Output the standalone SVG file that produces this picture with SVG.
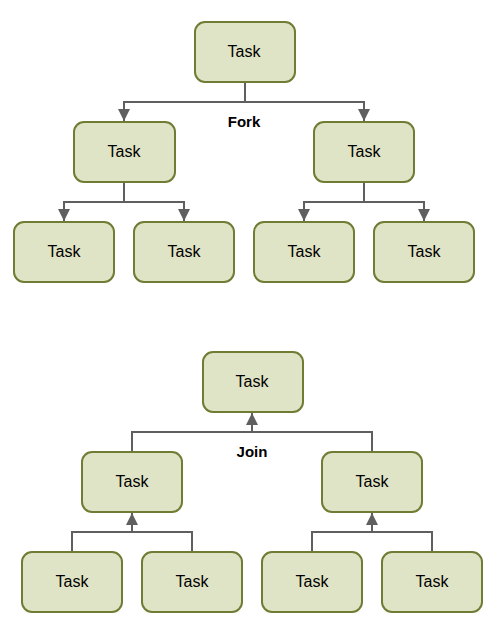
<svg xmlns="http://www.w3.org/2000/svg" width="497" height="633" viewBox="0 0 497 633">
<defs>
<style>
.box{fill:#e0e4c6;stroke:#707b34;stroke-width:2}
.t{font-family:"Liberation Sans",Arial,sans-serif;font-size:16px;fill:#000;text-anchor:middle;dominant-baseline:central}
.lb{font-family:"Liberation Sans",Arial,sans-serif;font-size:15px;font-weight:bold;fill:#000;text-anchor:middle;dominant-baseline:central}
.c{fill:none;stroke:#5f5f5f;stroke-width:2}
</style>
<marker id="ah" viewBox="0 0 10 10" refX="10" refY="5" markerWidth="6" markerHeight="6" orient="auto" markerUnits="strokeWidth">
<path d="M0,0 L10,5 L0,10 z" fill="#5f5f5f"/>
</marker>
</defs>
<rect width="497" height="633" fill="#fff"/>
<g id="connectors">
<path class="c" d="M245,82 V102"/>
<path class="c" d="M245,102 H124 V121" marker-end="url(#ah)"/>
<path class="c" d="M245,102 H364 V121" marker-end="url(#ah)"/>
<path class="c" d="M124,182 V202"/>
<path class="c" d="M124,202 H64 V221" marker-end="url(#ah)"/>
<path class="c" d="M124,202 H184 V221" marker-end="url(#ah)"/>
<path class="c" d="M364,182 V202"/>
<path class="c" d="M364,202 H304 V221" marker-end="url(#ah)"/>
<path class="c" d="M364,202 H424 V221" marker-end="url(#ah)"/>
<path class="c" d="M132,452 V432 H372 V452"/>
<path class="c" d="M252,432 V413" marker-end="url(#ah)"/>
<path class="c" d="M72,552 V532 H192 V552"/>
<path class="c" d="M132,532 V513" marker-end="url(#ah)"/>
<path class="c" d="M312,552 V532 H432 V552"/>
<path class="c" d="M372,532 V513" marker-end="url(#ah)"/>
</g>
<g id="label-fork"><text class="lb" x="244" y="121">Fork</text></g>
<g id="label-join"><text class="lb" x="252" y="451">Join</text></g>
<g id="f-root"><rect class="box" x="195" y="22" width="100" height="60" rx="10"/><text class="t" x="244" y="51">Task</text></g>
<g id="f-l"><rect class="box" x="74" y="122" width="101" height="60" rx="10"/><text class="t" x="124" y="151">Task</text></g>
<g id="f-r"><rect class="box" x="314" y="122" width="100" height="60" rx="10"/><text class="t" x="364" y="151">Task</text></g>
<g id="f-ll"><rect class="box" x="14" y="222" width="100" height="60" rx="10"/><text class="t" x="64" y="251">Task</text></g>
<g id="f-lr"><rect class="box" x="134" y="222" width="100" height="60" rx="10"/><text class="t" x="184" y="251">Task</text></g>
<g id="f-rl"><rect class="box" x="254" y="222" width="100" height="60" rx="10"/><text class="t" x="304" y="251">Task</text></g>
<g id="f-rr"><rect class="box" x="374" y="222" width="100" height="60" rx="10"/><text class="t" x="424" y="251">Task</text></g>
<g id="j-root"><rect class="box" x="203" y="352" width="100" height="60" rx="10"/><text class="t" x="252" y="381">Task</text></g>
<g id="j-l"><rect class="box" x="82" y="452" width="100" height="60" rx="10"/><text class="t" x="132" y="481">Task</text></g>
<g id="j-r"><rect class="box" x="322" y="452" width="100" height="60" rx="10"/><text class="t" x="372" y="481">Task</text></g>
<g id="j-ll"><rect class="box" x="22" y="552" width="100" height="60" rx="10"/><text class="t" x="72" y="581">Task</text></g>
<g id="j-lr"><rect class="box" x="142" y="552" width="100" height="60" rx="10"/><text class="t" x="192" y="581">Task</text></g>
<g id="j-rl"><rect class="box" x="262" y="552" width="100" height="60" rx="10"/><text class="t" x="312" y="581">Task</text></g>
<g id="j-rr"><rect class="box" x="382" y="552" width="100" height="60" rx="10"/><text class="t" x="432" y="581">Task</text></g>
</svg>
